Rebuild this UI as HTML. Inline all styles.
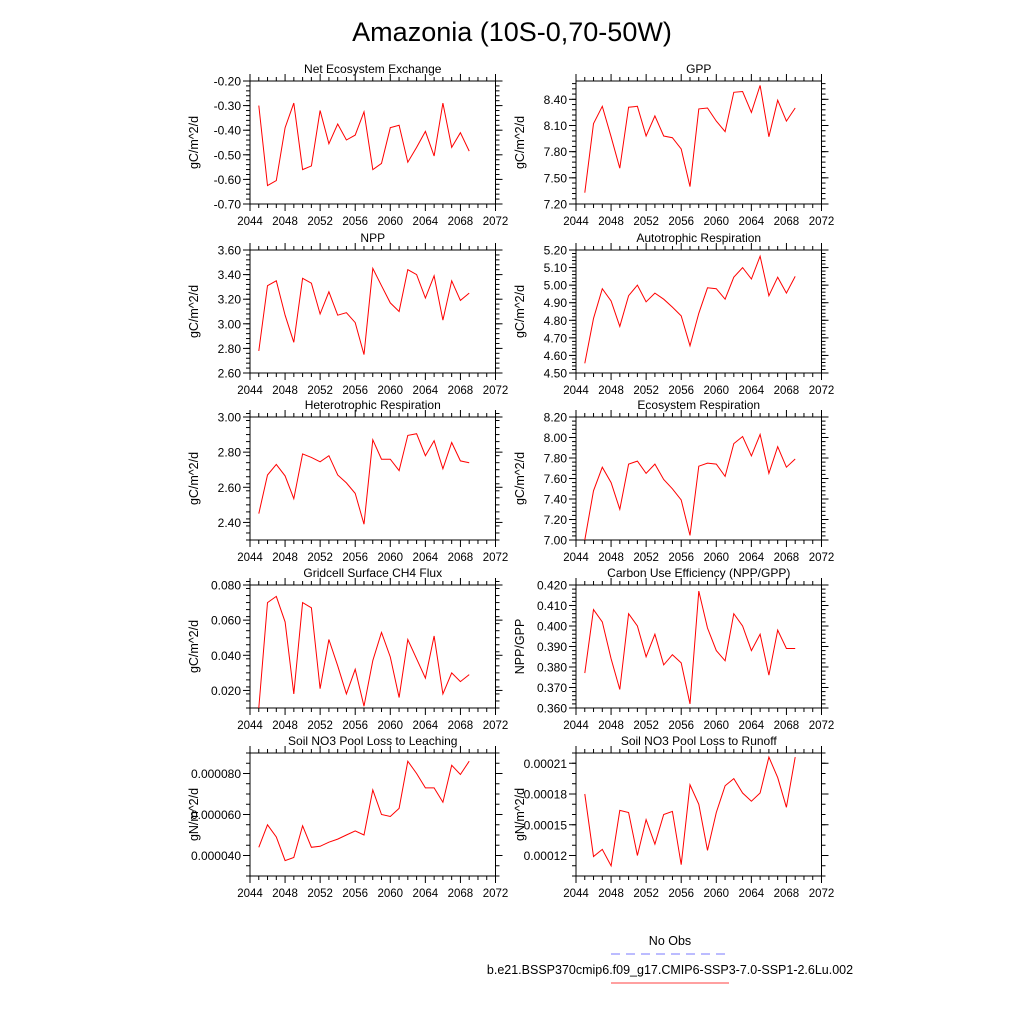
<!DOCTYPE html>
<html><head><meta charset="utf-8"><style>
body{margin:0;background:#fff;}
svg{display:block;font-family:"Liberation Sans",sans-serif;}
</style></head><body>
<svg id="c" width="1024" height="1024" viewBox="0 0 1024 1024">
<text x="512" y="41" font-size="27" text-anchor="middle">Amazonia (10S-0,70-50W)</text>
<g>
<text x="670" y="945" font-size="12.5" text-anchor="middle">No Obs</text>
<line x1="611" y1="954" x2="729" y2="954" stroke="#7a7aff" stroke-width="1" stroke-dasharray="9,6"/>
<text x="670" y="974" font-size="12.5" text-anchor="middle">b.e21.BSSP370cmip6.f09_g17.CMIP6-SSP3-7.0-SSP1-2.6Lu.002</text>
<line x1="611" y1="983" x2="729" y2="983" stroke="#ff4040" stroke-width="1"/>
</g>
</svg>
<script>
const years=[2045,2046,2047,2048,2049,2050,2051,2052,2053,2054,2055,2056,2057,2058,2059,2060,2061,2062,2063,2064,2065,2066,2067,2068,2069];
const xTicks=[2044,2048,2052,2056,2060,2064,2068,2072];
const neeVals=[-0.30,-0.625,-0.605,-0.39,-0.29,-0.56,-0.545,-0.32,-0.455,-0.375,-0.44,-0.42,-0.325,-0.56,-0.535,-0.39,-0.38,-0.53,-0.47,-0.405,-0.505,-0.29,-0.47,-0.41,-0.485];
const gppVals=[7.33,8.12,8.32,7.97,7.61,8.31,8.32,7.98,8.21,7.98,7.96,7.83,7.40,8.29,8.30,8.15,8.03,8.48,8.49,8.25,8.56,7.97,8.39,8.15,8.30];
const nppVals=[2.78,3.31,3.35,3.07,2.85,3.37,3.33,3.08,3.26,3.07,3.09,3.01,2.75,3.45,3.31,3.17,3.10,3.44,3.40,3.21,3.39,3.03,3.35,3.19,3.25];
const arVals=[4.555,4.81,4.98,4.91,4.765,4.94,5.00,4.905,4.955,4.92,4.875,4.825,4.655,4.84,4.985,4.98,4.92,5.045,5.10,5.035,5.165,4.94,5.045,4.955,5.05];
const hrVals=[2.45,2.67,2.73,2.665,2.535,2.79,2.77,2.745,2.78,2.67,2.625,2.565,2.39,2.87,2.76,2.76,2.695,2.895,2.905,2.78,2.865,2.705,2.855,2.75,2.74];
const erVals=[7.00,7.48,7.71,7.56,7.30,7.74,7.77,7.65,7.74,7.59,7.50,7.39,7.045,7.72,7.75,7.74,7.62,7.94,8.01,7.82,8.03,7.65,7.91,7.71,7.79];
const ch4Vals=[0.010,0.070,0.0735,0.059,0.018,0.070,0.067,0.021,0.049,0.034,0.018,0.032,0.011,0.037,0.053,0.039,0.016,0.049,0.038,0.027,0.051,0.018,0.030,0.025,0.029];
const cueVals=[0.377,0.408,0.402,0.384,0.369,0.406,0.400,0.385,0.396,0.381,0.386,0.382,0.362,0.417,0.399,0.388,0.383,0.406,0.400,0.388,0.396,0.376,0.398,0.389,0.389];
const leachVals=[4.4e-5,5.5e-5,4.9e-5,3.75e-5,3.9e-5,5.45e-5,4.4e-5,4.45e-5,4.65e-5,4.8e-5,5.0e-5,5.2e-5,5.0e-5,7.2e-5,6.0e-5,5.9e-5,6.3e-5,8.6e-5,8.0e-5,7.3e-5,7.3e-5,6.6e-5,8.4e-5,7.95e-5,8.6e-5];
const runoffVals=[18.0e-5,11.9e-5,12.6e-5,11.0e-5,16.4e-5,16.2e-5,12.0e-5,15.5e-5,13.1e-5,16.0e-5,16.3e-5,11.1e-5,18.9e-5,17.0e-5,12.5e-5,16.2e-5,18.8e-5,19.5e-5,18.1e-5,17.3e-5,18.1e-5,21.6e-5,19.6e-5,16.7e-5,21.6e-5];
const neeTicks=["-0.70","-0.60","-0.50","-0.40","-0.30","-0.20"];
const gppTicks=["7.20","7.50","7.80","8.10","8.40"];
const nppTicks=["2.60","2.80","3.00","3.20","3.40","3.60"];
const arTicks=["4.50","4.60","4.70","4.80","4.90","5.00","5.10","5.20"];
const hrTicks=["2.40","2.60","2.80","3.00"];
const erTicks=["7.00","7.20","7.40","7.60","7.80","8.00","8.20"];
const ch4Ticks=["0.020","0.040","0.060","0.080"];
const cueTicks=["0.360","0.370","0.380","0.390","0.400","0.410","0.420"];
const leachTicks=["0.000040","0.000060","0.000080"];
const runoffTicks=["0.00012","0.00015","0.00018","0.00021"];

const svg=document.getElementById('c');
const NS='http://www.w3.org/2000/svg';
function mk(tag,attrs,parent){const e=document.createElementNS(NS,tag);for(const k in attrs)e.setAttribute(k,attrs[k]);parent.appendChild(e);return e;}

function panel(key,title,ylab,vals,ticks,ymin,ymax,minorStep,col,row){
  const L=col===0?250:576, W=245.5, T=[81,250,417,585,753][row], H=123;
  const g=mk('g',{},svg);
  
  
  const xs=v=>L+(v-2044)/(2072-2044)*W;
  const ys=v=>T+H-(v-ymin)/(ymax-ymin)*H;
  const t=mk('text',{x:L+W/2,y:T-8,'font-size':12,'text-anchor':'middle'},g);
  t.textContent=title;
  
  
  const yl=mk('text',{x:0,y:0,'font-size':12.5,'text-anchor':'middle',transform:`translate(${L-52},${T+H/2}) rotate(-90)`},g);
  yl.textContent=ylab;
  
  
  const fr=mk('rect',{x:L,y:T,width:W,height:H,fill:'none',stroke:'#000','stroke-width':1},g);
  
  
  // x ticks
  for(let yr=2044;yr<=2072;yr++){
    const major=(yr-2044)%4===0, len=major?7:4, x=xs(yr);
    mk('line',{x1:x,y1:T+H,x2:x,y2:T+H+len,stroke:'#000','stroke-width':1},g);
    mk('line',{x1:x,y1:T,x2:x,y2:T-len,stroke:'#000','stroke-width':1},g);
  }
  xTicks.forEach(v=>{
    const tx=mk('text',{x:xs(v),y:T+H+21,'font-size':11.5,'text-anchor':'middle'},g);
    tx.textContent=String(v);
    
    
  });
  // y minor ticks
  const n=Math.round((ymax-ymin)/minorStep);
  for(let i=0;i<=n;i++){
    const y=ys(ymin+i*minorStep);
    mk('line',{x1:L,y1:y,x2:L-4,y2:y,stroke:'#000','stroke-width':1},g);
    mk('line',{x1:L+W,y1:y,x2:L+W+4,y2:y,stroke:'#000','stroke-width':1},g);
  }
  ticks.forEach(s=>{
    const y=ys(parseFloat(s));
    mk('line',{x1:L,y1:y,x2:L-7,y2:y,stroke:'#000','stroke-width':1},g);
    mk('line',{x1:L+W,y1:y,x2:L+W+7,y2:y,stroke:'#000','stroke-width':1},g);
    const ty=mk('text',{x:L-9,y:y+4.5,'font-size':12,'text-anchor':'end'},g);
    ty.textContent=s;
    
    
  });
  const pts=vals.map((v,i)=>xs(years[i]).toFixed(1)+','+ys(v).toFixed(1)).join(' ');
  const pl=mk('polyline',{points:pts,fill:'none',stroke:'#ff0000','stroke-width':1},g);
  
  
}
panel('nee','Net Ecosystem Exchange','gC/m^2/d',neeVals,neeTicks,-0.70,-0.20,0.02,0,0);
panel('gpp','GPP','gC/m^2/d',gppVals,gppTicks,7.20,8.61,0.06,1,0);
panel('npp','NPP','gC/m^2/d',nppVals,nppTicks,2.60,3.60,0.04,0,1);
panel('ar','Autotrophic Respiration','gC/m^2/d',arVals,arTicks,4.50,5.20,0.02,1,1);
panel('hr','Heterotrophic Respiration','gC/m^2/d',hrVals,hrTicks,2.30,3.00,0.04,0,2);
panel('er','Ecosystem Respiration','gC/m^2/d',erVals,erTicks,7.00,8.20,0.04,1,2);
panel('ch4','Gridcell Surface CH4 Flux','gC/m^2/d',ch4Vals,ch4Ticks,0.010,0.080,0.004,0,3);
panel('cue','Carbon Use Efficiency (NPP/GPP)','NPP/GPP',cueVals,cueTicks,0.360,0.420,0.002,1,3);
panel('leach','Soil NO3 Pool Loss to Leaching','gN/m^2/d',leachVals,leachTicks,3e-5,9e-5,5e-6,0,4);
panel('runoff','Soil NO3 Pool Loss to Runoff','gN/m^2/d',runoffVals,runoffTicks,10e-5,22e-5,1e-5,1,4);
</script>
</body></html>
